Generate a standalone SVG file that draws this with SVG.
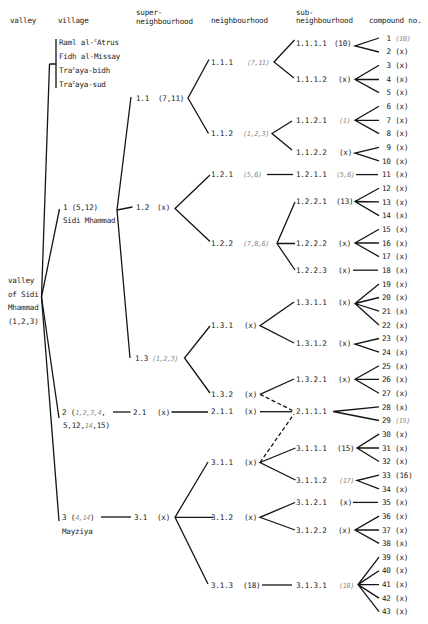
<svg xmlns="http://www.w3.org/2000/svg" width="428" height="624" viewBox="0 0 428 624">
<style>
text{font-family:"DejaVu Sans Mono","Liberation Mono",monospace;font-size:7.6px;letter-spacing:-0.2px;fill:#1a1a1a}
.it{font-style:italic;fill:#8a8a8a;font-size:7px;letter-spacing:-0.5px}
.sup{font-size:5.2px}
#connectors path{fill:none;stroke:#151515;stroke-width:1.3}
#connectors .dash{stroke-dasharray:4 2.5}
</style>
<rect width="428" height="624" fill="#fff"/>
<g id="headers">
<text x="10" y="23">valley</text>
<text x="58" y="23">village</text>
<text x="136" y="15">super-</text>
<text x="136" y="23.5">neighbourhood</text>
<text x="211" y="23">neighbourhood</text>
<text x="296" y="14.5">sub-</text>
<text x="296" y="22.5">neighbourhood</text>
<text x="369" y="22.5">compound no.</text>
</g>
<g id="connectors">
<path d="M56,39 V88 M49.5,64 H56"/>
<path d="M49.5,64 L41.5,297"/>
<path d="M41.5,297 L59.5,209"/>
<path d="M41.5,297 L59,418"/>
<path d="M41.5,297 L59,521"/>
<path d="M131,97 L117,210 L130,358 M117,210 L132.5,207"/>
<path d="M113,412 H130.5"/>
<path d="M101,517 H131"/>
<path d="M209,59.5 L188,98 L208.5,133.5"/>
<path d="M210,175 L175,208.5 L210,241.5"/>
<path d="M210,326 L184.5,358 L210,393"/>
<path d="M171.5,412 H208"/>
<path d="M208,462 L175,517.3 L208,584 M175,517.3 H213"/>
<path d="M294.5,40 L274,62 L294,78"/>
<path d="M292,121 L272,133.5 L292,150"/>
<path d="M267,174.5 H293"/>
<path d="M295,202 L277,243.5 L295,270 M277,243.5 H295"/>
<path d="M294,302 L260,325.7 L294,343"/>
<path d="M294,379 L260,394.3"/>
<path class="dash" d="M260,394.3 L292.5,410.5"/>
<path d="M260,411.7 H292"/>
<path d="M295.5,448 L260,462.5 L295.5,480"/>
<path class="dash" d="M260,462.5 L294,414"/>
<path d="M295,502.5 L260,517.3 L295,530"/>
<path d="M262,585 H292"/>
<path d="M379,38 L355,46 L379,52"/>
<path d="M379,65.3 L355,79.5 L379,92.6 M355,79.5 H379"/>
<path d="M379,106.3 L355,120.3 L379,133.6 M355,120.3 H379"/>
<path d="M379,147.3 L355,153 L379,160.9"/>
<path d="M356,174.6 H378"/>
<path d="M379,188.3 L355,201.5 L379,215.6 M355,201.5 L379,201.9"/>
<path d="M379,229.2 L355,243 L379,256.6 M355,243 H379"/>
<path d="M353,270.2 H378"/>
<path d="M379,283.9 L355,303.5 L379,324.9 M355,303.5 L379,297.5 M355,303.5 L379,311.2"/>
<path d="M379,338.5 L355,344 L379,352.2"/>
<path d="M379,365.8 L355,379.3 L379,393.2 M355,379.3 H379"/>
<path d="M379,406.8 L333,411.5 L379,420.5"/>
<path d="M379,434.1 L357,448 L379,461.5 M357,448 H379"/>
<path d="M379,475.1 L357,480.5 L379,488.8"/>
<path d="M353,502.4 H378"/>
<path d="M379,516.1 L355,530 L379,543.4 M355,530 H379"/>
<path d="M379,557.1 L358,584.6 L379,611.7 M358,584.6 L379,570.7 M358,584.6 H379 M358,584.6 L379,598.1"/>
</g>
<g id="valley">
<text x="8" y="283">valley</text>
<text x="8" y="296.5">of Sidi</text>
<text x="8" y="310">Mhammad</text>
<text x="8" y="323.5">(1,2,3)</text>
</g>
<g id="village-small">
<text x="59" y="45.4">Raml al-<tspan class="sup" dy="-3">c</tspan><tspan dy="3">Atrus</tspan></text>
<text x="59" y="59.2">Fidh al-Missay</text>
<text x="59" y="73">Tra<tspan class="sup" dy="-3">c</tspan><tspan dy="3">aya-bidh</tspan></text>
<text x="59" y="86.5">Tra<tspan class="sup" dy="-3">c</tspan><tspan dy="3">aya-sud</tspan></text>
</g>
<g id="village-1">
<text x="63" y="209.5">1 (5,12)</text>
<text x="63" y="223">Sidi Mhammad</text>
</g>
<g id="village-2">
<text x="62" y="414.5">2 (<tspan class="it">1,2,3,4</tspan>,</text>
<text x="63" y="428">5,12,<tspan class="it">14</tspan>,15)</text>
</g>
<g id="village-3">
<text x="62" y="520">3 (<tspan class="it">4,14</tspan>)</text>
<text x="62" y="533.5">Mayziya</text>
</g>
<g id="sn-1.1"><text x="136" y="101">1.1</text><text x="158" y="101">(7,11)</text></g>
<g id="sn-1.2"><text x="136" y="210">1.2</text><text x="157" y="210">(x)</text></g>
<g id="sn-1.3"><text x="135" y="361">1.3</text><text x="152" y="361" class="it">(1,2,3)</text></g>
<g id="sn-2.1"><text x="133" y="415">2.1</text><text x="157" y="415">(x)</text></g>
<g id="sn-3.1"><text x="134" y="520">3.1</text><text x="157" y="520">(x)</text></g>
<g id="n-1.1.1"><text x="211" y="64.7">1.1.1</text><text x="247" y="64.7" class="it">(7,11)</text></g>
<g id="n-1.1.2"><text x="211" y="135.7">1.1.2</text><text x="243" y="135.7" class="it">(1,2,3)</text></g>
<g id="n-1.2.1"><text x="211" y="177.2">1.2.1</text><text x="243" y="177.2" class="it">(5,6)</text></g>
<g id="n-1.2.2"><text x="211" y="246.2">1.2.2</text><text x="243" y="246.2" class="it">(7,8,6)</text></g>
<g id="n-1.3.1"><text x="211" y="328.4">1.3.1</text><text x="244" y="328.4">(x)</text></g>
<g id="n-1.3.2"><text x="211" y="397">1.3.2</text><text x="244" y="397">(x)</text></g>
<g id="n-2.1.1"><text x="211" y="414.4">2.1.1</text><text x="244" y="414.4">(x)</text></g>
<g id="n-3.1.1"><text x="211" y="465.2">3.1.1</text><text x="244" y="465.2">(x)</text></g>
<g id="n-3.1.2"><text x="211" y="520">3.1.2</text><text x="244" y="520">(x)</text></g>
<g id="n-3.1.3"><text x="211" y="587.7">3.1.3</text><text x="243" y="587.7">(18)</text></g>
<g id="sub-1.1.1.1"><text x="296" y="45.5">1.1.1.1</text><text x="334" y="45.5">(10)</text></g>
<g id="sub-1.1.1.2"><text x="296" y="82">1.1.1.2</text><text x="338" y="82">(x)</text></g>
<g id="sub-1.1.2.1"><text x="296" y="122.7">1.1.2.1</text><text x="339" y="122.7" class="it">(1)</text></g>
<g id="sub-1.1.2.2"><text x="296" y="154.7">1.1.2.2</text><text x="339" y="154.7">(x)</text></g>
<g id="sub-1.2.1.1"><text x="296" y="177.3">1.2.1.1</text><text x="336" y="177.3" class="it">(5,6)</text></g>
<g id="sub-1.2.2.1"><text x="296" y="204">1.2.2.1</text><text x="336" y="204">(13)</text></g>
<g id="sub-1.2.2.2"><text x="296" y="245.7">1.2.2.2</text><text x="338" y="245.7">(x)</text></g>
<g id="sub-1.2.2.3"><text x="296" y="272.9">1.2.2.3</text><text x="338" y="272.9">(x)</text></g>
<g id="sub-1.3.1.1"><text x="296" y="305.2">1.3.1.1</text><text x="338" y="305.2">(x)</text></g>
<g id="sub-1.3.1.2"><text x="296" y="346.2">1.3.1.2</text><text x="338" y="346.2">(x)</text></g>
<g id="sub-1.3.2.1"><text x="296" y="381.9">1.3.2.1</text><text x="338" y="381.9">(x)</text></g>
<g id="sub-2.1.1.1"><text x="296" y="414.2">2.1.1.1</text></g>
<g id="sub-3.1.1.1"><text x="296" y="450.7">3.1.1.1</text><text x="337" y="450.7">(15)</text></g>
<g id="sub-3.1.1.2"><text x="296" y="482.7">3.1.1.2</text><text x="339" y="482.7" class="it">(17)</text></g>
<g id="sub-3.1.2.1"><text x="296" y="505.2">3.1.2.1</text><text x="339" y="505.2">(x)</text></g>
<g id="sub-3.1.2.2"><text x="296" y="532.7">3.1.2.2</text><text x="338" y="532.7">(x)</text></g>
<g id="sub-3.1.3.1"><text x="296" y="587.7">3.1.3.1</text><text x="339" y="587.7" class="it">(18)</text></g>
<g id="compounds">
<g id="c1"><text x="386.5" y="40.7">1 <tspan class="it">(10)</tspan></text></g>
<g id="c2"><text x="386.5" y="54.4">2 (x)</text></g>
<g id="c3"><text x="386.5" y="68">3 (x)</text></g>
<g id="c4"><text x="386.5" y="81.7">4 (x)</text></g>
<g id="c5"><text x="386.5" y="95.3">5 (x)</text></g>
<g id="c6"><text x="386.5" y="109">6 (x)</text></g>
<g id="c7"><text x="386.5" y="122.7">7 (x)</text></g>
<g id="c8"><text x="386.5" y="136.3">8 (x)</text></g>
<g id="c9"><text x="386.5" y="150">9 (x)</text></g>
<g id="c10"><text x="382" y="163.6">10 (x)</text></g>
<g id="c11"><text x="382" y="177.3">11 (x)</text></g>
<g id="c12"><text x="382" y="191">12 (x)</text></g>
<g id="c13"><text x="382" y="204.6">13 (x)</text></g>
<g id="c14"><text x="382" y="218.3">14 (x)</text></g>
<g id="c15"><text x="382" y="231.9">15 (x)</text></g>
<g id="c16"><text x="382" y="245.6">16 (x)</text></g>
<g id="c17"><text x="382" y="259.3">17 (x)</text></g>
<g id="c18"><text x="382" y="272.9">18 (x)</text></g>
<g id="c19"><text x="382" y="286.6">19 (x)</text></g>
<g id="c20"><text x="382" y="300.2">20 (x)</text></g>
<g id="c21"><text x="382" y="313.9">21 (x)</text></g>
<g id="c22"><text x="382" y="327.6">22 (x)</text></g>
<g id="c23"><text x="382" y="341.2">23 (x)</text></g>
<g id="c24"><text x="382" y="354.9">24 (x)</text></g>
<g id="c25"><text x="382" y="368.5">25 (x)</text></g>
<g id="c26"><text x="382" y="382.2">26 (x)</text></g>
<g id="c27"><text x="382" y="395.9">27 (x)</text></g>
<g id="c28"><text x="382" y="409.5">28 (x)</text></g>
<g id="c29"><text x="382" y="423.2">29 <tspan class="it">(15)</tspan></text></g>
<g id="c30"><text x="382" y="436.8">30 (x)</text></g>
<g id="c31"><text x="382" y="450.5">31 (x)</text></g>
<g id="c32"><text x="382" y="464.2">32 (x)</text></g>
<g id="c33"><text x="382" y="477.8">33 (16)</text></g>
<g id="c34"><text x="382" y="491.5">34 (x)</text></g>
<g id="c35"><text x="382" y="505.1">35 (x)</text></g>
<g id="c36"><text x="382" y="518.8">36 (x)</text></g>
<g id="c37"><text x="382" y="532.5">37 (x)</text></g>
<g id="c38"><text x="382" y="546.1">38 (x)</text></g>
<g id="c39"><text x="382" y="559.8">39 (x)</text></g>
<g id="c40"><text x="382" y="573.4">40 (x)</text></g>
<g id="c41"><text x="382" y="587.1">41 (x)</text></g>
<g id="c42"><text x="382" y="600.8">42 (x)</text></g>
<g id="c43"><text x="382" y="614.4">43 (x)</text></g>
</g>
</svg>
